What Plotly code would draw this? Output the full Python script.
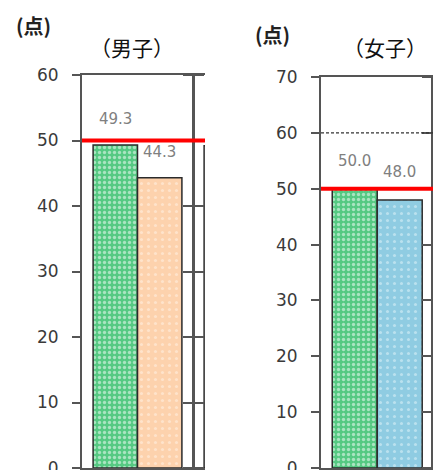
import plotly.graph_objects as go

# Scores (points) per group
boys_pos = [0, 1, 2.5]
boys_values = [49.3, 44.3, 49.2]
girls_pos = [0, 1]
girls_values = [50.0, 48.0]
reference_score = 50
boys_ticks = [0, 10, 20, 30, 40, 50, 60]
girls_ticks = [0, 10, 20, 30, 40, 50, 60, 70]

W, H = 433, 470
GREEN = "#55c982"
ORANGE = "#fdd2ad"
BLUE = "#8fcce2"
WHITE = "#ffffff"
OUTLINE = "#2b2b2b"
AXIS = "#555555"
TICKFONT = dict(family="DejaVu Sans", size=17, color="#3a3a3a")
LABELFONT = dict(family="DejaVu Sans", size=15, color="#808080")


def px(x):
    return x / W


def py(y):
    return (H - y) / H


fig = go.Figure()

boys_fill = [GREEN, ORANGE, WHITE]
boys_pat = [
    dict(shape=".", fgcolor="white", bgcolor=GREEN, size=5, solidity=0.35),
    dict(shape=".", fgcolor="#fff3ea", bgcolor=ORANGE, size=7, solidity=0.15),
    dict(shape="", bgcolor=WHITE),
]
for i, (pos, v) in enumerate(zip(boys_pos, boys_values)):
    fig.add_trace(go.Bar(
        x=[pos], y=[v], width=1.0, xaxis="x", yaxis="y",
        marker=dict(color=boys_fill[i], pattern=boys_pat[i],
                    line=dict(color=OUTLINE, width=1.5)),
        showlegend=False, hoverinfo="skip",
    ))

girls_fill = [GREEN, BLUE]
girls_pat = [
    dict(shape=".", fgcolor="white", bgcolor=GREEN, size=5, solidity=0.35),
    dict(shape=".", fgcolor="#e6f5fa", bgcolor=BLUE, size=7, solidity=0.15),
]
for i, (pos, v) in enumerate(zip(girls_pos, girls_values)):
    fig.add_trace(go.Bar(
        x=[pos], y=[v], width=1.0, xaxis="x2", yaxis="y3",
        marker=dict(color=girls_fill[i], pattern=girls_pat[i],
                    line=dict(color=OUTLINE, width=1.5)),
        showlegend=False, hoverinfo="skip",
    ))

# empty traces so the separator axes get drawn
for xa, ya in [("x", "y2"), ("x", "y5"), ("x2", "y4")]:
    fig.add_trace(go.Scatter(x=[None], y=[None], xaxis=xa, yaxis=ya,
                             showlegend=False, hoverinfo="skip"))

# value labels above the first two bars of each panel
annotations = []
for pos, v in zip(boys_pos[:2], boys_values[:2]):
    annotations.append(dict(x=pos, y=v, xref="x", yref="y", text=f"{v:.1f}",
                            showarrow=False, yanchor="middle", yshift=26,
                            font=LABELFONT))
for pos, v in zip(girls_pos, girls_values):
    annotations.append(dict(x=pos, y=v, xref="x2", yref="y3", text=f"{v:.1f}",
                            showarrow=False, yanchor="middle", yshift=28,
                            font=LABELFONT))

# unit and panel titles
title_font = dict(family="Noto Sans CJK JP", size=20, color="#222222")
head_font = dict(family="Noto Sans CJK JP", size=21, color="#111111")
for x, y, txt, f in [(33, 25, "<b>(点)</b>", title_font),
                     (272, 34, "<b>(点)</b>", title_font),
                     (132, 47, "（男子）", head_font),
                     (385, 47, "（女子）", head_font)]:
    annotations.append(dict(x=px(x), y=py(y), xref="paper", yref="paper",
                            text=txt, showarrow=False, xanchor="center",
                            yanchor="middle", font=f))

left_dom = [px(82), px(205)]
right_dom = [px(321), 1.0]
left_sep = px(193)
right_sep = px(432)

yax_common = dict(showline=True, linecolor=AXIS, linewidth=2, ticks="outside",
                  ticklen=8, tickcolor=AXIS, tickwidth=1.5, showgrid=False,
                  zeroline=False, tickfont=TICKFONT, ticklabelstandoff=10,
                  ticklabeloverflow="allow", automargin=False)
sep_common = dict(showline=True, linecolor=AXIS, linewidth=2.5, ticks="outside",
                  ticklen=9, tickcolor=AXIS, tickwidth=1.5, showgrid=False,
                  zeroline=False, showticklabels=False, automargin=False)
xax_common = dict(showticklabels=False, ticks="", showgrid=False,
                  zeroline=False, showline=True, mirror=True, linecolor=AXIS,
                  linewidth=2, automargin=False)

fig.update_layout(
    width=W, height=H, autosize=False,
    margin=dict(l=0, r=0, t=0, b=0, pad=0, autoexpand=False),
    paper_bgcolor="white", plot_bgcolor="white",
    barmode="overlay", showlegend=False,
    xaxis=dict(domain=left_dom, range=[-0.75, 2.02], anchor="y", **xax_common),
    yaxis=dict(domain=[py(468), py(75)], range=[0, 60], tickvals=boys_ticks,
               anchor="x", **yax_common),
    yaxis2=dict(overlaying="y", range=[0, 60], tickvals=boys_ticks,
                anchor="free", position=left_sep, side="right", **sep_common),
    yaxis5=dict(overlaying="y", range=[0, 60], tickvals=boys_ticks,
                anchor="free", position=left_sep, side="left", **sep_common),
    xaxis2=dict(domain=right_dom, range=[-0.75, 1.74], anchor="y3", **xax_common),
    yaxis3=dict(domain=[py(468), py(77)], range=[0, 70], tickvals=girls_ticks,
                anchor="x2", **yax_common),
    yaxis4=dict(overlaying="y3", range=[0, 70], tickvals=girls_ticks,
                anchor="free", position=right_sep, side="left", **sep_common),
    annotations=annotations,
    shapes=[
        dict(type="line", xref="x2 domain", yref="y3", x0=0, x1=1, y0=60, y1=60,
             line=dict(color="#333333", width=1.2, dash="3px,2px"), layer="above"),
        dict(type="line", xref="x domain", yref="y", x0=0, x1=1,
             y0=reference_score, y1=reference_score,
             line=dict(color="#ff0000", width=4), layer="above"),
        dict(type="line", xref="x2 domain", yref="y3", x0=0, x1=1,
             y0=reference_score, y1=reference_score,
             line=dict(color="#ff0000", width=4), layer="above"),
    ],
)

fig.write_html("out.html")
